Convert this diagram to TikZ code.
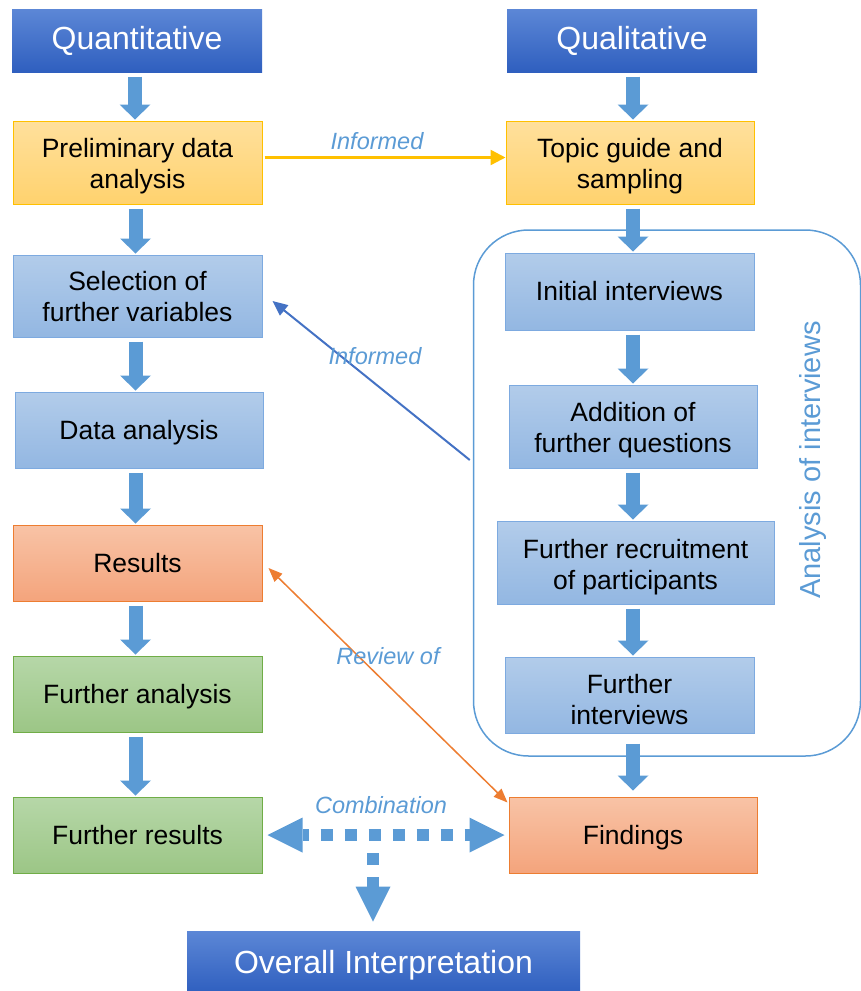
\documentclass[tikz,border=0pt]{standalone}
\usepackage{fontspec}
\setmainfont{Liberation Sans}
\usetikzlibrary{arrows.meta}
\definecolor{hdtop}{HTML}{5C87D6}
\definecolor{hdbot}{HTML}{2F5FBF}
\definecolor{bltop}{HTML}{B2CCEA}
\definecolor{blbot}{HTML}{93B7E2}
\definecolor{blbd}{HTML}{7DAAE0}
\definecolor{yltop}{HTML}{FFE09C}
\definecolor{ylbot}{HTML}{FFD26E}
\definecolor{ylbd}{HTML}{FFC000}
\definecolor{ortop}{HTML}{F8C3A6}
\definecolor{orbot}{HTML}{F4A47C}
\definecolor{orbd}{HTML}{ED7D31}
\definecolor{grtop}{HTML}{B6D7A8}
\definecolor{grbot}{HTML}{9CC686}
\definecolor{grbd}{HTML}{70AD47}
\definecolor{lblue}{HTML}{5B9BD5}
\definecolor{dblue}{HTML}{4472C4}
\newcommand\mystrut{\rule[-0.212em]{0pt}{1.117em}}
\newcommand\topstrut[1]{\rule[-0.212em]{0pt}{\dimexpr 1.117em+#1\relax}}
\begin{document}
\begin{tikzpicture}[x=1pt,y=-1pt,
  box/.style={draw, line width=1pt, inner sep=0pt, align=center, text=black,
    font=\fontsize{26.5}{31}\selectfont,
    execute at begin node=\mystrut, execute at end node=\mystrut},
  hdr/.style={box, draw=none, top color=hdtop, bottom color=hdbot, text=white,
    font=\fontsize{32}{37}\selectfont},
  hdrup/.style={execute at end node={\rule[\dimexpr-0.212em-4pt\relax]{0pt}{1pt}}},
  bluebox/.style={box, draw=blbd, top color=bltop, bottom color=blbot},
  yelbox/.style={box, draw=ylbd, top color=yltop, bottom color=ylbot},
  orbox/.style={box, draw=orbd, top color=ortop, bottom color=orbot},
  grbox/.style={box, draw=grbd, top color=grtop, bottom color=grbot},
  barrow/.style={draw=lblue, line width=14pt,
    -{Triangle[length=15pt,width=31pt,line width=0pt]}, shorten <=4pt, shorten >=1pt},
  lbl/.style={text=lblue, font=\itshape\fontsize{23.5}{27}\selectfont},
  comb/.style={draw=lblue, line width=12pt, dash pattern=on 12pt off 12pt}
]
\useasboundingbox (0,0) rectangle (861,991);

% container
\node[draw=lblue, line width=1.5pt, rounded corners=55pt, minimum width=387pt,
  minimum height=526pt, inner sep=0pt] (cont) at (667,493) {};
\node[text=lblue, rotate=90, font=\fontsize{29}{34}\selectfont] (ai) at (813,460) {Analysis of interviews};

% headers
\node[hdr, hdrup, minimum width=250pt, minimum height=63pt] (quant) at (137,40.5) {Quantitative};
\node[hdr, hdrup, minimum width=250pt, minimum height=63pt] (qual) at (632,40.5) {Qualitative};
\node[hdr, minimum width=393pt, minimum height=62pt] (ov) at (383.5,962) {Overall Interpretation};

% left column
\node[yelbox, minimum width=249pt, minimum height=83pt] (pre) at (137.5,162.5) {\topstrut{2pt}Preliminary data\\analysis\mystrut};
\node[bluebox, minimum width=249pt, minimum height=82pt] (sel) at (137.5,296) {\topstrut{2pt}Selection of\\further variables\mystrut};
\node[bluebox, minimum width=248pt, minimum height=76pt] (da) at (139,430) {Data analysis};
\node[orbox, minimum width=249pt, minimum height=76pt] (res) at (137.5,563) {Results};
\node[grbox, minimum width=249pt, minimum height=76pt] (fa) at (137.5,694) {Further analysis};
\node[grbox, minimum width=249pt, minimum height=76pt] (fr) at (137.5,835) {Further results};

% right column
\node[yelbox, minimum width=248pt, minimum height=83pt] (top) at (630,162.5) {\topstrut{2pt}Topic guide and\\sampling\mystrut};
\node[bluebox, minimum width=249pt, minimum height=77pt] (ini) at (629.5,291.5) {Initial interviews};
\node[bluebox, minimum width=248pt, minimum height=83pt] (add) at (633,426.5) {\topstrut{3pt}Addition of\\further questions\mystrut};
\node[bluebox, minimum width=277pt, minimum height=83pt] (rec) at (635.5,562.5) {\topstrut{5pt}Further recruitment\\of participants\mystrut};
\node[bluebox, minimum width=249pt, minimum height=76pt] (fi) at (629.5,695) {\topstrut{9pt}Further\\interviews\mystrut};
\node[orbox, minimum width=248pt, minimum height=76pt] (fin) at (633,835) {Findings};

% block arrows left
\draw[barrow] ([xshift=-2pt]quant.south) -- ([xshift=-2pt]quant.south |- pre.north);
\draw[barrow] ([xshift=-2pt]pre.south) -- ([xshift=-2pt]pre.south |- sel.north);
\draw[barrow] ([xshift=-2pt]sel.south) -- ([xshift=-2pt]sel.south |- da.north);
\draw[barrow] ([xshift=-2pt]sel.south |- da.south) -- ([xshift=-2pt]sel.south |- res.north);
\draw[barrow] ([xshift=-2pt]res.south) -- ([xshift=-2pt]res.south |- fa.north);
\draw[barrow] ([xshift=-2pt]fa.south) -- ([xshift=-2pt]fa.south |- fr.north);

% block arrows right
\draw[barrow] ([xshift=1pt]qual.south) -- ([xshift=1pt]qual.south |- top.north);
\draw[barrow] ([xshift=3pt]top.south) -- ([xshift=3pt]top.south |- ini.north);
\draw[barrow] ([xshift=3.5pt]ini.south) -- ([xshift=3.5pt]ini.south |- add.north);
\draw[barrow] (add.south) -- (add.south |- rec.north);
\draw[barrow] (add.south |- rec.south) -- (add.south |- fi.north);
\draw[barrow, shorten <=10pt, shorten >=6pt] (add.south |- fi.south) -- (add.south |- fin.north);

% informed arrows
\draw[draw=ylbd, line width=2.5pt, -{Triangle[length=15pt,width=15pt]}]
  ([xshift=2pt,yshift=5pt]pre.east) -- ([yshift=5pt]top.west);
\node[lbl] (l1) at (377,141) {Informed};

\draw[draw=dblue, line width=2pt, -{Triangle[length=15pt,width=13pt]}]
  ([xshift=-3pt,yshift=33pt]cont.west) -- ([xshift=10pt,yshift=-5pt]sel.east);
\node[lbl] (l2) at (375,356) {Informed};

% review of
\draw[draw=orbd, line width=1.5pt, {Triangle[length=14pt,width=11pt]}-{Triangle[length=14pt,width=11pt]}]
  ([xshift=6pt,yshift=-5pt]res.east) -- ([xshift=-1pt,yshift=-6pt]fin.north west);
\node[lbl] (l3) at (388,656) {Review of};

% combination
\coordinate (j) at (373,841);
\draw[comb, dash phase=6pt,
  {Triangle[length=35pt,width=35pt,line width=0pt]}-{Triangle[length=35pt,width=35pt,line width=0pt]},
  shorten <=5pt, shorten >=4pt] (fr.east) -- (fin.west);
\draw[comb, dash phase=12pt, -{Triangle[length=35pt,width=35pt,line width=0pt]}]
  (j) -- ([yshift=9pt]j |- ov.north);
\node[lbl] (l4) at (381,805) {Combination};
\end{tikzpicture}
\end{document}
